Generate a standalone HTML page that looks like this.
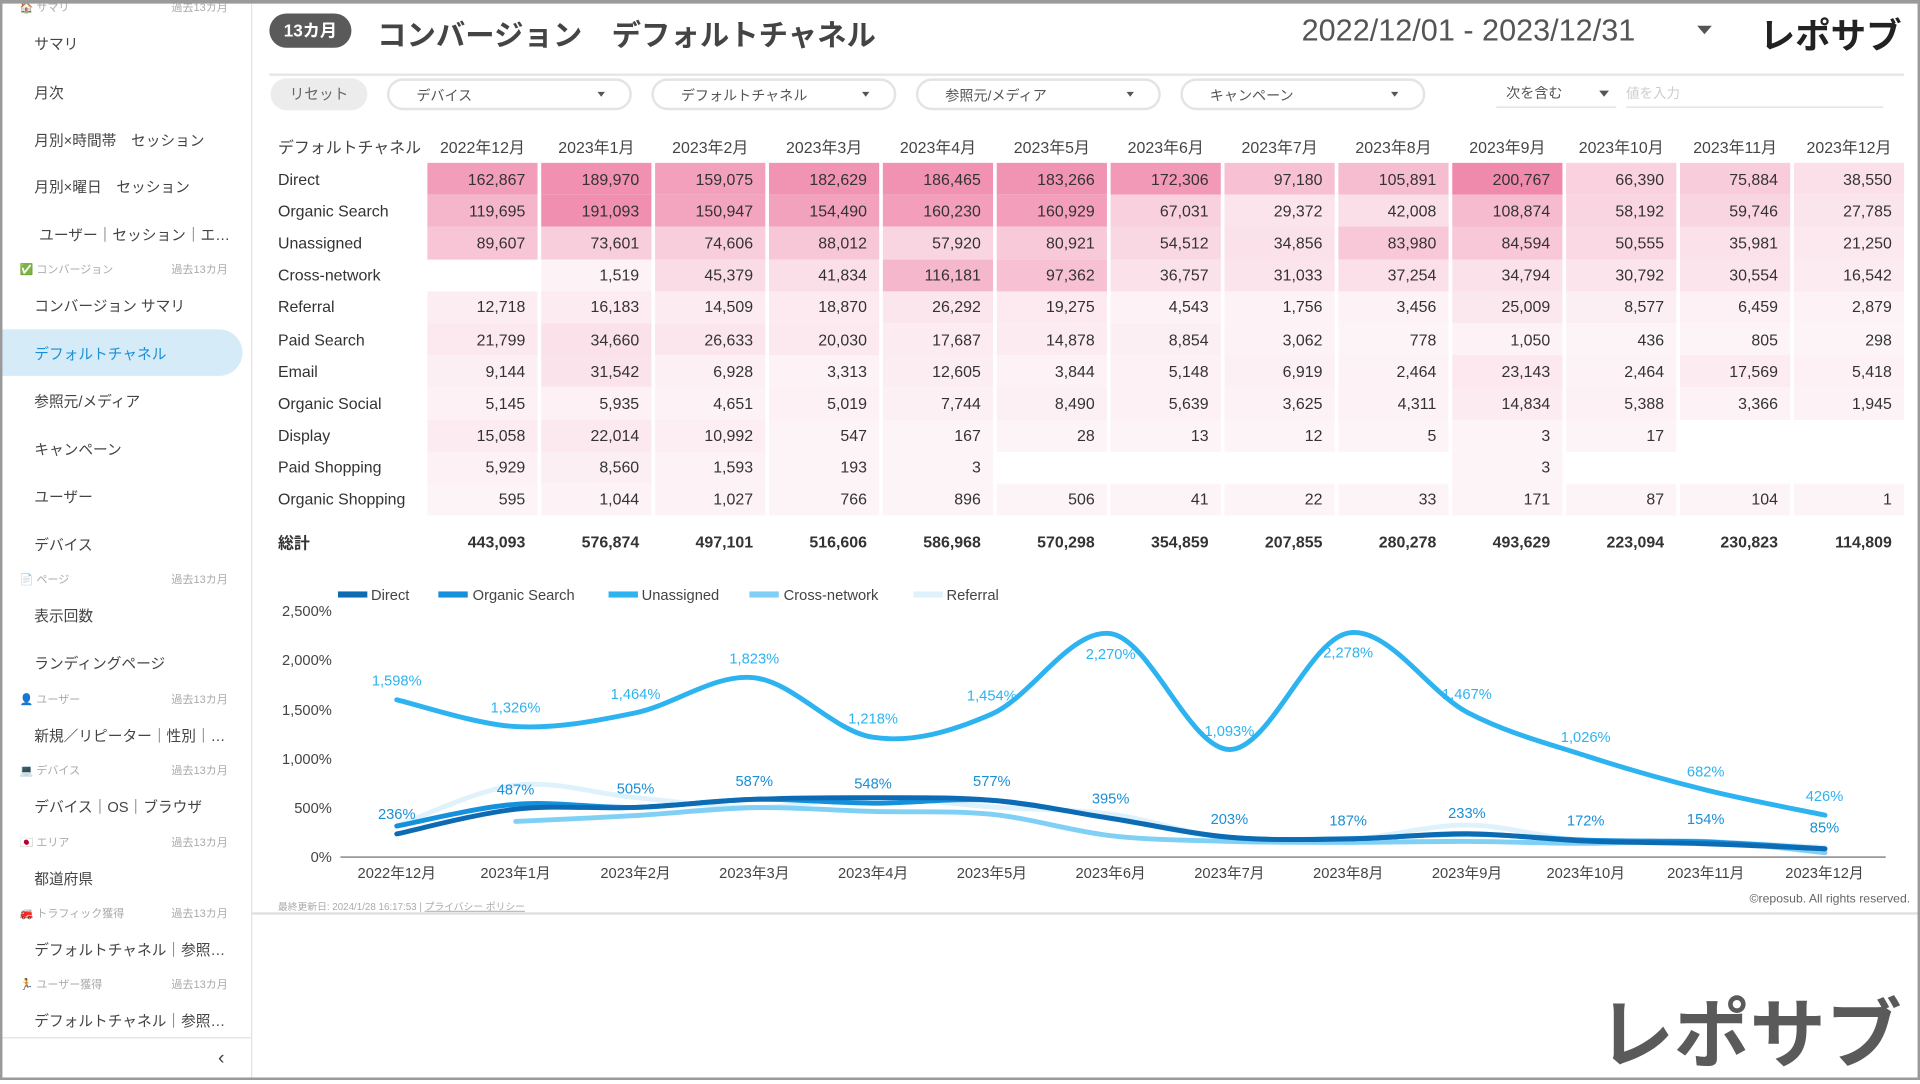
<!DOCTYPE html>
<html><head><meta charset="utf-8">
<style>
*{margin:0;padding:0;box-sizing:border-box}
html,body{width:1920px;height:1080px;overflow:hidden;background:#fff}
#w{position:absolute;left:0;top:0;width:1568px;height:882px;transform:scale(1.22449);transform-origin:0 0;font-family:"Liberation Sans","Noto Sans CJK JP",sans-serif;color:#444;background:#fff}
#frame{position:absolute;left:0;top:0;width:1568px;height:882px;border:2px solid #9a9a9a;border-top:3px solid #9a9a9a}
.a{position:absolute;white-space:nowrap}
.side{position:absolute;left:0;top:0;width:206px;height:882px;border-right:1px solid #e2e2e2}
.it{position:absolute;left:28px;font-size:12px;color:#444}
.sec{position:absolute;left:16px;font-size:9px;color:#aaa;width:170px}
.sec span{position:absolute;right:0}
.dd{position:absolute;top:64px;height:26px;width:200px;border:2px solid #e4e4e4;border-radius:13px;font-size:11.5px;color:#555;padding:4px 0 0 22px}
.dd:after{content:"";position:absolute;right:20px;top:9px;border:3px solid transparent;border-top:4px solid #555}
table{position:absolute;left:221px;top:106px;border-collapse:separate;border-spacing:3px 0;font-size:13px;color:#333;margin-left:-3px}
td{height:26.2px;padding:0 10px 0 0;text-align:right;width:90px}
td.l{text-align:left;width:125px;padding-left:6px}
tr.h td{height:27px;text-align:center;padding:0;color:#444}
tr.h td.l{text-align:left;padding-left:6px}
tr.t td{height:34px;font-weight:bold;padding-top:8px}
</style></head><body><div id="w">
<div class="side">
<div class="sec" style="top:-1px">🏠 サマリ<span>過去13カ月</span></div>
<div class="it" style="top:27px">サマリ</div>
<div class="it" style="top:67px">月次</div>
<div class="it" style="top:106px">月別×時間帯　セッション</div>
<div class="it" style="top:144px">月別×曜日　セッション</div>
<div class="it" style="top:183px;left:32px">ユーザー｜セッション｜エ…</div>
<div class="sec" style="top:213px"><b style="color:#2db84d">✅</b> コンバージョン<span>過去13カ月</span></div>
<div class="it" style="top:241px">コンバージョン サマリ</div>
<div style="position:absolute;left:0;top:269px;width:198px;height:38px;background:#d5ebf8;border-radius:0 19px 19px 0"></div>
<div class="it" style="top:280px;color:#1a8fd6">デフォルトチャネル</div>
<div class="it" style="top:319px">参照元/メディア</div>
<div class="it" style="top:358px">キャンペーン</div>
<div class="it" style="top:397px">ユーザー</div>
<div class="it" style="top:436px">デバイス</div>
<div class="sec" style="top:466px">📄 ページ<span>過去13カ月</span></div>
<div class="it" style="top:494px">表示回数</div>
<div class="it" style="top:533px">ランディングページ</div>
<div class="sec" style="top:564px">👤 ユーザー<span>過去13カ月</span></div>
<div class="it" style="top:592px">新規／リピーター｜性別｜…</div>
<div class="sec" style="top:622px">💻 デバイス<span>過去13カ月</span></div>
<div class="it" style="top:650px">デバイス｜OS｜ブラウザ</div>
<div class="sec" style="top:681px">🇯🇵 エリア<span>過去13カ月</span></div>
<div class="it" style="top:709px">都道府県</div>
<div class="sec" style="top:739px">🚒 トラフィック獲得<span>過去13カ月</span></div>
<div class="it" style="top:767px">デフォルトチャネル｜参照…</div>
<div class="sec" style="top:797px">🏃 ユーザー獲得<span>過去13カ月</span></div>
<div class="it" style="top:825px">デフォルトチャネル｜参照…</div>
<div style="position:absolute;left:0;top:847px;width:205px;border-top:1px solid #e2e2e2"></div>
<div class="a" style="left:178px;top:856px;font-size:16px;color:#444">‹</div>
</div>

<div class="a" style="left:220px;top:11px;width:67px;height:28px;border-radius:14px;background:#5a5a5a;color:#fff;font-weight:bold;font-size:14px;text-align:center;line-height:28px">13カ月</div>
<div class="a" style="left:308px;top:9px;font-size:24px;color:#444;font-weight:bold">コンバージョン　デフォルトチャネル</div>
<div class="a" style="left:1063px;top:11px;font-size:25px;color:#555">2022/12/01 - 2023/12/31</div>
<div class="a" style="left:1386px;top:21px;border:6px solid transparent;border-top:7px solid #555"></div>
<div class="a" style="left:1437px;top:6px;font-size:29px;font-weight:bold;color:#222">レポサブ</div>
<div class="a" style="left:220px;top:60px;width:1335px;border-top:2px solid #e6e6e6"></div>

<div class="a" style="left:221px;top:64px;width:79px;height:26px;border-radius:13px;background:#ececec;font-size:12px;color:#666;text-align:center;line-height:26px">リセット</div>
<div class="dd" style="left:316px">デバイス</div>
<div class="dd" style="left:532px">デフォルトチャネル</div>
<div class="dd" style="left:748px">参照元/メディア</div>
<div class="dd" style="left:964px">キャンペーン</div>
<div class="a" style="left:1222px;top:68px;width:98px;height:20px;border-bottom:1px solid #ddd;font-size:11.5px;color:#555;padding-left:8px">次を含む</div>
<div class="a" style="left:1306px;top:74px;border:4px solid transparent;border-top:5px solid #555"></div>
<div class="a" style="left:1328px;top:68px;width:210px;height:20px;border-bottom:1px solid #ddd;font-size:11px;color:#ccc">値を入力</div>

<table id="tb">
<tr class="h"><td class="l">デフォルトチャネル</td><td>2022年12月</td><td>2023年1月</td><td>2023年2月</td><td>2023年3月</td><td>2023年4月</td><td>2023年5月</td><td>2023年6月</td><td>2023年7月</td><td>2023年8月</td><td>2023年9月</td><td>2023年10月</td><td>2023年11月</td><td>2023年12月</td></tr>
<tr><td class="l">Direct</td><td>162,867</td><td>189,970</td><td>159,075</td><td>182,629</td><td>186,465</td><td>183,266</td><td>172,306</td><td>97,180</td><td>105,891</td><td>200,767</td><td>66,390</td><td>75,884</td><td>38,550</td></tr>
<tr><td class="l">Organic Search</td><td>119,695</td><td>191,093</td><td>150,947</td><td>154,490</td><td>160,230</td><td>160,929</td><td>67,031</td><td>29,372</td><td>42,008</td><td>108,874</td><td>58,192</td><td>59,746</td><td>27,785</td></tr>
<tr><td class="l">Unassigned</td><td>89,607</td><td>73,601</td><td>74,606</td><td>88,012</td><td>57,920</td><td>80,921</td><td>54,512</td><td>34,856</td><td>83,980</td><td>84,594</td><td>50,555</td><td>35,981</td><td>21,250</td></tr>
<tr><td class="l">Cross-network</td><td></td><td>1,519</td><td>45,379</td><td>41,834</td><td>116,181</td><td>97,362</td><td>36,757</td><td>31,033</td><td>37,254</td><td>34,794</td><td>30,792</td><td>30,554</td><td>16,542</td></tr>
<tr><td class="l">Referral</td><td>12,718</td><td>16,183</td><td>14,509</td><td>18,870</td><td>26,292</td><td>19,275</td><td>4,543</td><td>1,756</td><td>3,456</td><td>25,009</td><td>8,577</td><td>6,459</td><td>2,879</td></tr>
<tr><td class="l">Paid Search</td><td>21,799</td><td>34,660</td><td>26,633</td><td>20,030</td><td>17,687</td><td>14,878</td><td>8,854</td><td>3,062</td><td>778</td><td>1,050</td><td>436</td><td>805</td><td>298</td></tr>
<tr><td class="l">Email</td><td>9,144</td><td>31,542</td><td>6,928</td><td>3,313</td><td>12,605</td><td>3,844</td><td>5,148</td><td>6,919</td><td>2,464</td><td>23,143</td><td>2,464</td><td>17,569</td><td>5,418</td></tr>
<tr><td class="l">Organic Social</td><td>5,145</td><td>5,935</td><td>4,651</td><td>5,019</td><td>7,744</td><td>8,490</td><td>5,639</td><td>3,625</td><td>4,311</td><td>14,834</td><td>5,388</td><td>3,366</td><td>1,945</td></tr>
<tr><td class="l">Display</td><td>15,058</td><td>22,014</td><td>10,992</td><td>547</td><td>167</td><td>28</td><td>13</td><td>12</td><td>5</td><td>3</td><td>17</td><td></td><td></td></tr>
<tr><td class="l">Paid Shopping</td><td>5,929</td><td>8,560</td><td>1,593</td><td>193</td><td>3</td><td></td><td></td><td></td><td></td><td>3</td><td></td><td></td><td></td></tr>
<tr><td class="l">Organic Shopping</td><td>595</td><td>1,044</td><td>1,027</td><td>766</td><td>896</td><td>506</td><td>41</td><td>22</td><td>33</td><td>171</td><td>87</td><td>104</td><td>1</td></tr>
<tr class="t"><td class="l">総計</td><td>443,093</td><td>576,874</td><td>497,101</td><td>516,606</td><td>586,968</td><td>570,298</td><td>354,859</td><td>207,855</td><td>280,278</td><td>493,629</td><td>223,094</td><td>230,823</td><td>114,809</td></tr>
</table>

<svg class="a" style="left:0;top:0" width="1568" height="882" font-family="Liberation Sans, Noto Sans CJK JP, sans-serif">
<g font-size="12" fill="#444">
<rect x="276" y="483" width="24" height="5" fill="#0d6bb3"/><text x="303" y="490">Direct</text>
<rect x="358" y="483" width="24" height="5" fill="#1490dc"/><text x="386" y="490">Organic Search</text>
<rect x="497" y="483" width="24" height="5" fill="#2db3f0"/><text x="524" y="490">Unassigned</text>
<rect x="612" y="483" width="24" height="5" fill="#80d0f6"/><text x="640" y="490">Cross-network</text>
<rect x="746" y="483" width="24" height="5" fill="#dff2fc"/><text x="773" y="490">Referral</text>
</g>
<g font-size="12" fill="#444" text-anchor="end">
<text x="271" y="503">2,500%</text><text x="271" y="543">2,000%</text><text x="271" y="584">1,500%</text><text x="271" y="624">1,000%</text><text x="271" y="664">500%</text><text x="271" y="704">0%</text>
</g>
<line x1="278" y1="700" x2="1540" y2="700" stroke="#999" stroke-width="1.5"/>
<g font-size="12" fill="#444" text-anchor="middle">
<text x="324" y="717">2022年12月</text><text x="421" y="717">2023年1月</text><text x="519" y="717">2023年2月</text><text x="616" y="717">2023年3月</text><text x="713" y="717">2023年4月</text><text x="810" y="717">2023年5月</text><text x="907" y="717">2023年6月</text><text x="1004" y="717">2023年7月</text><text x="1101" y="717">2023年8月</text><text x="1198" y="717">2023年9月</text><text x="1295" y="717">2023年10月</text><text x="1393" y="717">2023年11月</text><text x="1490" y="717">2023年12月</text>
</g>
<g id="lines" fill="none" stroke-linecap="round"></g>
<g font-size="12" fill="#2db3f0" text-anchor="middle">
<text x="324" y="560">1,598%</text><text x="421" y="582">1,326%</text><text x="519" y="571">1,464%</text><text x="616" y="542">1,823%</text><text x="713" y="591">1,218%</text><text x="810" y="572">1,454%</text><text x="907" y="538">2,270%</text><text x="1004" y="601">1,093%</text><text x="1101" y="537">2,278%</text><text x="1198" y="571">1,467%</text><text x="1295" y="606">1,026%</text><text x="1393" y="634">682%</text><text x="1490" y="654">426%</text>
</g>
<g font-size="12" fill="#1a8fd6" text-anchor="middle">
<text x="324" y="669">236%</text><text x="421" y="649">487%</text><text x="519" y="648">505%</text><text x="616" y="642">587%</text><text x="713" y="644">548%</text><text x="810" y="642">577%</text><text x="907" y="656">395%</text><text x="1004" y="673">203%</text><text x="1101" y="674">187%</text><text x="1198" y="668">233%</text><text x="1295" y="674">172%</text><text x="1393" y="673">154%</text><text x="1490" y="680">85%</text>
</g>
<text x="227" y="743" font-size="8" fill="#aaa">最終更新日: 2024/1/28 16:17:53 | <tspan text-decoration="underline">プライバシー ポリシー</tspan></text>
<text x="1560" y="737" font-size="10" fill="#666" text-anchor="end">©reposub. All rights reserved.</text>
</svg>
<div class="a" style="left:206px;top:745px;width:1362px;border-top:2px solid #e0e0e0"></div>
<div class="a" style="left:1305px;top:795px;font-size:62px;font-weight:bold;color:#5a5a5a">レポサブ</div>
<div id="frame"></div>
</div>
<script>
(function(){
var rows=document.querySelectorAll('#tb tr');
for(var r=1;r<rows.length-1;r++){var c=rows[r].children;for(var i=1;i<c.length;i++){var t=c[i].textContent.replace(/,/g,'');if(t===''){continue}var f=Math.min(1,+t/200767);
var R=Math.round(253+(240-253)*f),G=Math.round(244+(138-244)*f),B=Math.round(247+(173-247)*f);c[i].style.background='rgb('+R+','+G+','+B+')';}}
var S=[
['#dff2fc',[316,731,605,503,604,510,436,190,180,326,160,160,100]],
['#80d0f6',[null,363,422,503,464,435,218,160,150,160,140,160,45]],
['#1490dc',[316,537,505,587,548,577,393,200,187,233,172,154,85]],
['#0d6bb3',[236,487,505,587,604,577,395,203,185,238,163,136,85]],
['#2db3f0',[1598,1326,1464,1823,1218,1454,2270,1093,2278,1467,1026,682,426]]];
var g=document.getElementById('lines'),ns='http://www.w3.org/2000/svg';
S.forEach(function(s){var p=[];s[1].forEach(function(v,i){if(v!==null)p.push([324+i*97.2,700-v*0.0804]);});
var d='M'+p[0][0]+','+p[0][1];for(var i=0;i<p.length-1;i++){var p0=p[i-1]||p[i],p1=p[i],p2=p[i+1],p3=p[i+2]||p2;
d+=' C'+(p1[0]+(p2[0]-p0[0])/6)+','+(p1[1]+(p2[1]-p0[1])/6)+' '+(p2[0]-(p3[0]-p1[0])/6)+','+(p2[1]-(p3[1]-p1[1])/6)+' '+p2[0]+','+p2[1];}
var e=document.createElementNS(ns,'path');e.setAttribute('d',d);e.setAttribute('stroke',s[0]);e.setAttribute('stroke-width','4');g.appendChild(e);});
})();
</script>
</body></html>
